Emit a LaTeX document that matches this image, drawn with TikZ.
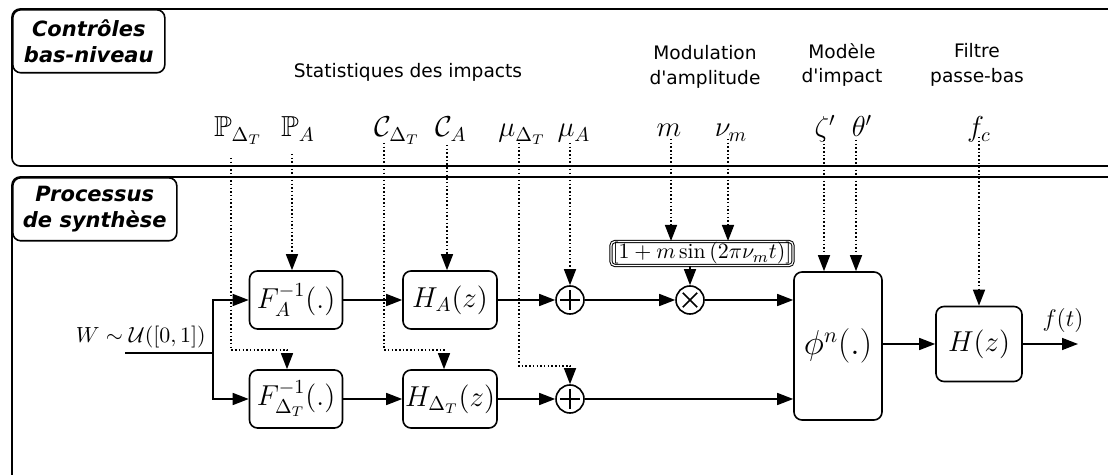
\documentclass[tikz,border=0pt]{standalone}
\usepackage{amssymb}
\usepackage{fontspec}
\setsansfont[Ligatures=TeXOff]{DejaVu Sans}
\usetikzlibrary{arrows.meta}
\tikzset{
  blk/.style={draw, line width=0.8pt, rounded corners=4pt, inner sep=0pt, font=\fontsize{14.5}{17}\selectfont},
  sumc/.style={draw, circle, line width=0.8pt, minimum size=14pt, inner sep=0pt},
  arr/.style={line width=0.75pt, -{Triangle[length=8pt,width=6pt]}},
  ctl/.style={dash pattern=on 0.75pt off 1.1pt, line width=0.75pt, -{Triangle[length=8pt,width=6pt]}},
  lbl/.style={inner sep=0pt, font=\fontsize{14.5}{17}\selectfont, anchor=base},
  sect/.style={inner sep=0pt, font=\sffamily\fontsize{9.3}{12.2}\selectfont, align=center},
  ttl/.style={draw, fill=white, line width=0.8pt, rounded corners=4pt, inner sep=0pt, anchor=north west,
    font=\sffamily\bfseries\itshape\fontsize{10.5}{13}\selectfont, align=center},
  panel/.style={line width=0.8pt, rounded corners=4pt}
}
\begin{document}
\begin{tikzpicture}[x=0.5pt, y=-0.5pt]
\useasboundingbox (0,0) rectangle (1108,475);
\clip (0,0) rectangle (1108,475);

% panels
\draw[panel] (1130,9) -- (12,9) -- (12,166) -- (1130,166);
\draw[panel] (1130,177) -- (12,177) -- (12,500);
\node[ttl, minimum width=76pt, minimum height=31.5pt] (t1) at (12,9) {Contrôles\\bas-niveau};
\node[ttl, minimum width=82pt, minimum height=31.5pt] (t2) at (12,177) {Processus\\de synthèse};

% section texts
\node[sect] (s1) at (408,72) {Statistiques des impacts};
\node[sect] (s2) at (705,67) {Modulation\\d'amplitude};
\node[sect] (s3) at (842,65) {Modèle\\d'impact};
\node[sect] (s4) at (977,65) {Filtre\\passe-bas};

% parameter labels
\node[lbl] (lPD) at (238,137) {$\mathbb{P}_{\Delta_T}$};
\node[lbl] (lPA) at (298,137) {$\mathbb{P}_A$};
\node[lbl] (lCD) at (397,137) {$\mathcal{C}_{\Delta_T}$};
\node[lbl] (lCA) at (451,137) {$\mathcal{C}_A$};
\node[lbl] (lMD) at (522,137) {$\mu_{\Delta_T}$};
\node[lbl] (lMA) at (574,137) {$\mu_A$};
\node[lbl] (lm) at (669,137) {$m$};
\node[lbl] (lnu) at (731,137) {$\nu_m$};
\node[lbl] (lz) at (825,137) {$\zeta'$};
\node[lbl] (lth) at (862,137) {$\theta'$};
\node[lbl] (lfc) at (979,137) {$f_c$};

% blocks
\node[blk, minimum width=46.5pt, minimum height=29pt] (FA) at (296,300) {$F_A^{-1}(.)$};
\node[blk, minimum width=46.5pt, minimum height=29pt] (FD) at (296,399) {$F_{\Delta_T}^{-1}(.)$};
\node[blk, minimum width=47pt, minimum height=29pt] (HA) at (450,300) {$H_A(z)$};
\node[blk, minimum width=47pt, minimum height=29pt] (HD) at (450,399) {$H_{\Delta_T}(z)$};
\node[sumc] (pA) at (570,300) {};
\node[sumc] (pD) at (570,399) {};
\node[sumc] (tm) at (690,300) {};
\draw[line width=0.8pt] ([yshift=-5pt]pA.center) -- ([yshift=5pt]pA.center) ([xshift=-5pt]pA.center) -- ([xshift=5pt]pA.center);
\draw[line width=0.8pt] ([yshift=-5pt]pD.center) -- ([yshift=5pt]pD.center) ([xshift=-5pt]pD.center) -- ([xshift=5pt]pD.center);
\draw[line width=0.8pt] ([shift={(-3.6pt,-3.6pt)}]tm.center) -- ([shift={(3.6pt,3.6pt)}]tm.center) ([shift={(-3.6pt,3.6pt)}]tm.center) -- ([shift={(3.6pt,-3.6pt)}]tm.center);
\node[draw, double, double distance=0.6pt, line width=0.5pt, rounded corners=2pt, inner sep=0pt, minimum width=91pt, minimum height=12pt, font=\fontsize{10.8}{12}\selectfont] (mod) at (702,253.5) {$\left[1+m\sin\left(2\pi\nu_m t\right)\right]$};
\node[blk, minimum width=44pt, minimum height=74pt, font=\fontsize{16}{18}\selectfont] (phi) at (838,346) {$\phi^n(.)$};
\node[blk, minimum width=43pt, minimum height=37.5pt, font=\fontsize{15}{18}\selectfont] (H) at (979,344) {$H(z)$};

% input
\coordinate (win) at (125,353);
\coordinate (split) at (213,353);
\node[inner sep=0pt, anchor=base east, font=\fontsize{10.6}{12}\selectfont] (lW) at (206,343) {$W\sim\mathcal{U}([0,1])$};
\draw[line width=0.75pt] (win) -- (split);
\draw[arr] (split) |- (FA.west);
\draw[arr] (split) |- (FD.west);

% signal flow
\draw[arr] (FA) -- (HA);
\draw[arr] (FD) -- (HD);
\draw[arr] (HA) -- (pA);
\draw[arr] (HD) -- (pD);
\draw[arr] (pA) -- (tm);
\draw[arr] (tm) -- (tm -| phi.west);
\draw[arr] (pD) -- (pD -| phi.west);
\draw[arr] (mod.south -| tm.north) -- (tm.north);
\draw[arr] (phi.east |- H.west) -- (H.west);
\coordinate (out) at (1078,344);
\draw[arr] (H.east) -- (out);
\node[inner sep=0pt, font=\fontsize{12.5}{14}\selectfont] (lf) at (1063,321) {$f(t)$};

% control lines
\coordinate (cPD) at (231,158);
\coordinate (cPA) at (292,154);
\coordinate (cCD) at (384,143);
\coordinate (cCA) at (447,145);
\coordinate (cMD) at (519,143);
\coordinate (cMA) at (570,143);
\coordinate (cm) at (671,139);
\coordinate (cnu) at (728,139);
\coordinate (cz) at (824,140);
\coordinate (cth) at (856,140);
\coordinate (cfc) at (979,137);
\draw[ctl] (cPD) -- (231,350) -| ([xshift=-4.5pt]FD.north);
\draw[ctl] (cPA) -- (cPA |- FA.north);
\draw[ctl] (cCD) -- (384,350) -| ([xshift=-3pt]HD.north);
\draw[ctl] (cCA) -- (cCA |- HA.north);
\draw[ctl] (cMD) -- (519,366) -| (pD.north);
\draw[ctl] (cMA) -- (pA.north);
\draw[ctl] (cm) -- (cm |- mod.north);
\draw[ctl] (cnu) -- (cnu |- mod.north);
\draw[ctl] (cz) -- (cz |- phi.north);
\draw[ctl] (cth) -- (cth |- phi.north);
\draw[ctl] (cfc) -- (H.north);
\end{tikzpicture}
\end{document}
